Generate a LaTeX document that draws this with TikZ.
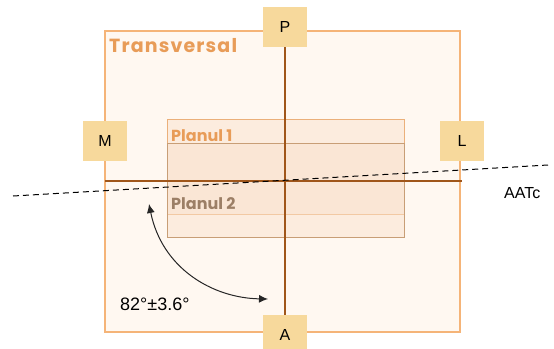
\documentclass[tikz,border=0pt]{standalone}
\usepackage{fontspec}
\setmainfont{Liberation Sans}
\newfontfamily\gothicfont{Poppins}
\newfontfamily\gothicwidefont{Poppins}[LetterSpace=6]
\usetikzlibrary{arrows.meta}
\definecolor{boxorange}{RGB}{245,180,120}
\definecolor{boxcream}{RGB}{255,248,241}
\definecolor{tabgold}{RGB}{247,217,156}
\definecolor{axisbrown}{RGB}{160,86,26}
\definecolor{planfill}{RGB}{250,226,205}
\definecolor{planedge}{RGB}{235,176,122}
\definecolor{planedgedark}{RGB}{200,158,118}
\definecolor{titleorange}{RGB}{232,156,88}
\definecolor{titlegray}{RGB}{156,127,102}
\tikzstyle{orientstyle}=[
    x=1pt, y=-1pt,
    >={Latex[length=9pt,width=8pt]},
    tab/.style={
        fill=tabgold,
        minimum width=44pt,
        minimum height=40pt,
        inner sep=0pt,
        font=\fontsize{16}{18}\selectfont,
    },
    axis/.style={draw=axisbrown, line width=1.8pt},
    plantitle/.style={inner sep=0pt, font=\gothicfont\bfseries\fontsize{16}{18}\selectfont},
]

\begin{document}
\begin{tikzpicture}[orientstyle]
        \useasboundingbox (0,0) rectangle (554,348);
        \draw[boxorange, fill=boxcream, line width=1.2pt] (105,31) rectangle (460,332);
        \draw[planedge, fill=planfill, fill opacity=0.5, line width=1pt] (167,119) rectangle (404,214);
        \draw[planedgedark, fill=planfill, fill opacity=0.5, line width=1pt] (167,143) rectangle (404,237);
        \node at (285,27) [tab] (P) {P};
        \node at (285,335) [tab] (A) {A};
        \node at (105,141) [tab] (M) {M};
        \node at (462,141) [tab] (L) {L};
        \draw[axis] (P.south) -- (A.north);
        \draw[axis] (M.center |- 0,181) -- (L.center |- 0,181);
        \coordinate (aatcleft) at (13,196);
        \coordinate (aatcright) at (548,165);
        \draw[black, line width=1pt, dashed, dash pattern=on 6pt off 4pt] (aatcleft) -- (aatcright);
        \node at (504,198) [anchor=base west, inner sep=0pt, font=\fontsize{16}{18}\selectfont] (aatc) {AATc};
        \node at (109,52) [anchor=base west, plantitle, font=\gothicwidefont\bfseries\fontsize{19}{21}\selectfont, text=titleorange] (transversal) {Transversal};
        \node at (171,141) [anchor=base west, plantitle, text=titleorange] (planul1) {Planul 1};
        \node at (171,209) [anchor=base west, plantitle, text=titlegray] (planul2) {Planul 2};
        \coordinate (arcstart) at (149,204);
        \coordinate (arcend) at (268,299);
        \draw[<->, black!85, line width=1pt] (arcstart) .. controls (162,268) and (212,298) .. (arcend);
        \node at (120,310) [anchor=base west, inner sep=0pt, font=\fontsize{18}{20}\selectfont] (angle) {82°±3.6°};
    \end{tikzpicture}
\end{document}
